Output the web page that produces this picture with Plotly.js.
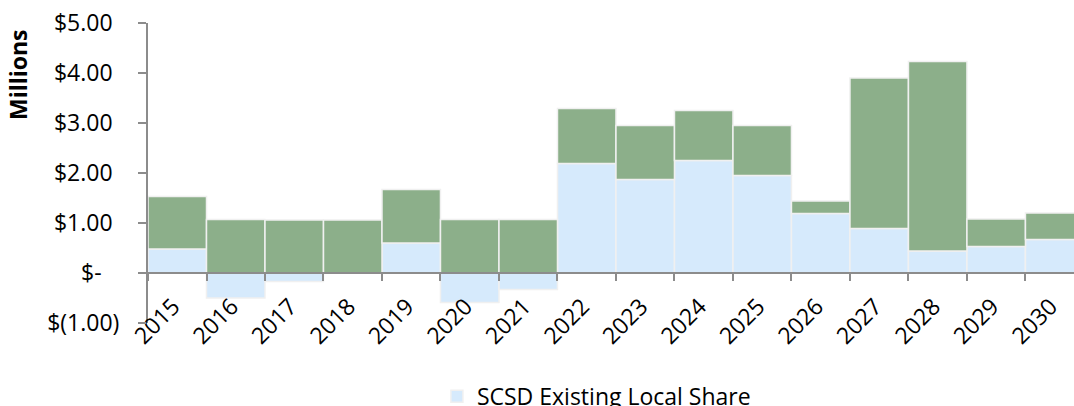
<!DOCTYPE html>
<html>
<head>
<meta charset="utf-8">
<script src="https://cdn.plot.ly/plotly-3.0.1.min.js"></script>
<style>
  html, body { margin: 0; padding: 0; overflow: hidden; background: #fff; }
  #chart { width: 1074px; height: 406px; }
</style>
</head>
<body>
<div id="chart"></div>
<script>
const years = ["2015","2016","2017","2018","2019","2020","2021","2022","2023","2024","2025","2026","2027","2028","2029","2030"];
const existingLocalShare = [0.48, -0.50, -0.17, 0.00, 0.60, -0.59, -0.33, 2.19, 1.87, 2.25, 1.95, 1.19, 0.89, 0.44, 0.53, 0.67];
const otherShare = [1.05, 1.07, 1.06, 1.06, 1.07, 1.07, 1.07, 1.10, 1.08, 1.00, 1.00, 0.25, 3.01, 3.79, 0.55, 0.53];
const yTickVals = [5, 4, 3, 2, 1, 0, -1];
const pad = s => "<span style='color:rgba(0,0,0,0)'>" + s + "</span>";
const yTickText = ["$5.00" + pad(")"), "$4.00" + pad(")"), "$3.00" + pad(")"), "$2.00" + pad(")"), "$1.00" + pad(")"), "$-" + pad("s)"), "$(1.00)"];

const FONT = "Open Sans, DejaVu Sans, sans-serif";
const axisGray = "#8C8C8C";

const traces = [
  {
    type: "bar", x: years, y: existingLocalShare, name: "SCSD Existing Local Share",
    marker: { color: "#D6EAFC", line: { color: "#F0F0F0", width: 1.5 } },
    showlegend: true
  },
  {
    type: "bar", x: years, y: otherShare, name: "Other Share",
    marker: { color: "#8CAF8A", line: { color: "#F0F0F0", width: 1.5 } },
    showlegend: false
  }
];

const layout = {
  width: 1074, height: 406,
  margin: { l: 148, r: 0, t: 23, b: 83, autoexpand: false },
  paper_bgcolor: "#fff", plot_bgcolor: "#fff",
  barmode: "relative", bargap: 0,
  font: { family: FONT, size: 23, color: "#000" },
  xaxis: {
    type: "category",
    range: [-0.5, 15.33],
    anchor: "free", position: 1/6,
    showline: true, linecolor: axisGray, linewidth: 2,
    ticks: "outside", tickson: "boundaries", ticklen: 7, tickwidth: 2, tickcolor: axisGray,
    tickangle: -45, showgrid: false, zeroline: false,
    ticklabelstandoff: 10, ticklabelshift: -4,
    tickfont: { family: FONT, size: 23, color: "#000" }
  },
  yaxis: {
    range: [-1, 5],
    tickvals: yTickVals, ticktext: yTickText,
    showline: true, linecolor: axisGray, linewidth: 2,
    ticks: "outside", ticklen: 8, tickwidth: 2, tickcolor: axisGray,
    ticklabelstandoff: 14,
    showgrid: false, zeroline: false,
    tickfont: { family: FONT, size: 23, color: "#000" }
  },
  legend: {
    orientation: "h", x: 0.312, xanchor: "left", y: -0.173, yanchor: "top",
    font: { family: FONT, size: 23, color: "#000" },
    bgcolor: "rgba(0,0,0,0)"
  },
  annotations: [
    {
      text: "<b>Millions</b>", xref: "paper", yref: "paper",
      x: -148/926 + 18/926, y: (323 - 75) / 300,
      xanchor: "center", yanchor: "middle", textangle: -90, showarrow: false,
      font: { family: FONT, size: 23, color: "#000" }
    }
  ]
};

Plotly.newPlot("chart", traces, layout, { displayModeBar: false, staticPlot: true });
</script>
</body>
</html>
